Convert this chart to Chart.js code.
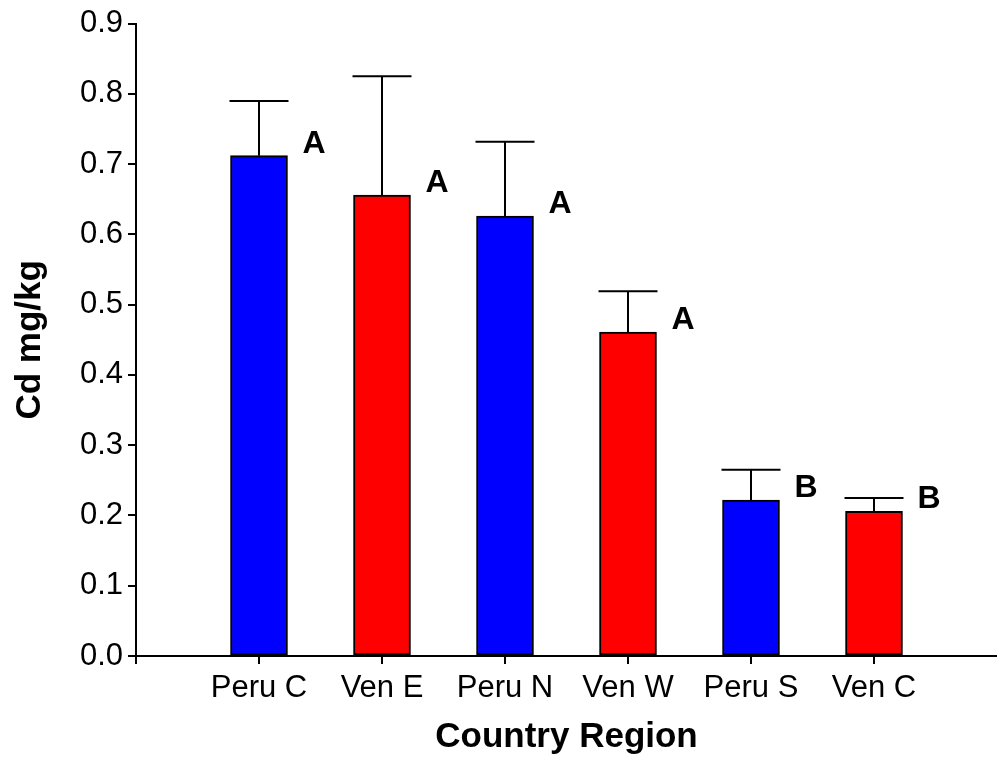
<!DOCTYPE html>
<html>
<head>
<meta charset="utf-8">
<script src="https://cdn.jsdelivr.net/npm/chart.js@4"></script>
<style>
html,body{margin:0;padding:0;background:#fff;}
#wrap{width:997px;height:757px;}
</style>
</head>
<body>
<div id="wrap"><canvas id="c" width="997" height="757"></canvas></div>
<script>
const categories = ['Peru C', 'Ven E', 'Peru N', 'Ven W', 'Peru S', 'Ven C'];
const means = [0.712, 0.656, 0.626, 0.461, 0.222, 0.206];
const errors = [0.078, 0.169, 0.106, 0.058, 0.043, 0.019];
const groups = ['A', 'A', 'A', 'A', 'B', 'B'];
const barColors = ['#0000FF', '#FF0000', '#0000FF', '#FF0000', '#0000FF', '#FF0000'];
const yTicks = [0.0, 0.1, 0.2, 0.3, 0.4, 0.5, 0.6, 0.7, 0.8, 0.9];

const FONT = "'Liberation Sans', Arial, sans-serif";

const errorPlugin = {
  id: 'errorBars',
  afterDatasetsDraw(chart) {
    const ctx = chart.ctx;
    const meta = chart.getDatasetMeta(0);
    const ys = chart.scales.y;
    ctx.save();
    meta.data.forEach((bar, i) => {
      const x = bar.x;
      const top = ys.getPixelForValue(means[i]);
      const et = ys.getPixelForValue(means[i] + errors[i]);
      const half = bar.width / 2 + 1;
      ctx.strokeStyle = '#000';
      ctx.lineWidth = 2;
      ctx.beginPath();
      ctx.moveTo(x, top);
      ctx.lineTo(x, et);
      ctx.moveTo(x - half, et);
      ctx.lineTo(x + half, et);
      ctx.stroke();
      ctx.fillStyle = '#000';
      ctx.font = 'bold 32px ' + FONT;
      ctx.textAlign = 'left';
      ctx.textBaseline = 'middle';
      ctx.fillText(groups[i], x + bar.width / 2 + 15, top - 12);
    });
    ctx.restore();
  }
};

new Chart(document.getElementById('c'), {
  type: 'bar',
  data: {
    datasets: [{
      data: categories.map((c, i) => ({x: i + 1, y: means[i]})),
      backgroundColor: barColors,
      borderColor: '#000',
      borderWidth: 2,
      borderSkipped: false,
      barThickness: 57
    }]
  },
  options: {
    responsive: false,
    animation: false,
    layout: {padding: {top: 13, right: 0, left: 0, bottom: 0}},
    plugins: {legend: {display: false}, tooltip: {enabled: false}},
    scales: {
      x: {
        type: 'linear',
        min: 0,
        max: 7,
        offset: false,
        afterBuildTicks(scale) {
          scale.ticks = [0, 1, 2, 3, 4, 5, 6].map(v => ({value: v}));
        },
        afterFit(scale) { scale.height = 101; },
        ticks: {
          autoSkip: false,
          maxRotation: 0,
          color: '#000',
          padding: 6,
          font: {family: FONT, size: 31},
          callback: (v) => (v >= 1 && v <= 6) ? categories[v - 1] : ''
        },
        grid: {offset: false, drawOnChartArea: false, drawTicks: true, tickLength: 8, color: '#000', lineWidth: 2},
        border: {display: true, color: '#000', width: 2},
        title: {display: true, text: 'Country Region', color: '#000',
          font: {family: FONT, size: 35, weight: 'bold', lineHeight: 1}, padding: {top: 2, bottom: 2}}
      },
      y: {
        type: 'linear',
        min: 0,
        max: 0.9,
        afterBuildTicks(scale) {
          scale.ticks = yTicks.map(v => ({value: v}));
        },
        afterFit(scale) { scale.width = 136; },
        ticks: {
          color: '#000',
          padding: 5,
          font: {family: FONT, size: 31},
          callback: (v) => Number(v).toFixed(1)
        },
        grid: {drawOnChartArea: false, drawTicks: true, tickLength: 8, color: '#000', lineWidth: 2},
        border: {display: true, color: '#000', width: 2},
        title: {display: true, text: 'Cd mg/kg', color: '#000',
          font: {family: FONT, size: 35, weight: 'bold', lineHeight: 1}, padding: {top: 13, bottom: 0}}
      }
    }
  },
  plugins: [errorPlugin]
});
</script>
</body>
</html>
